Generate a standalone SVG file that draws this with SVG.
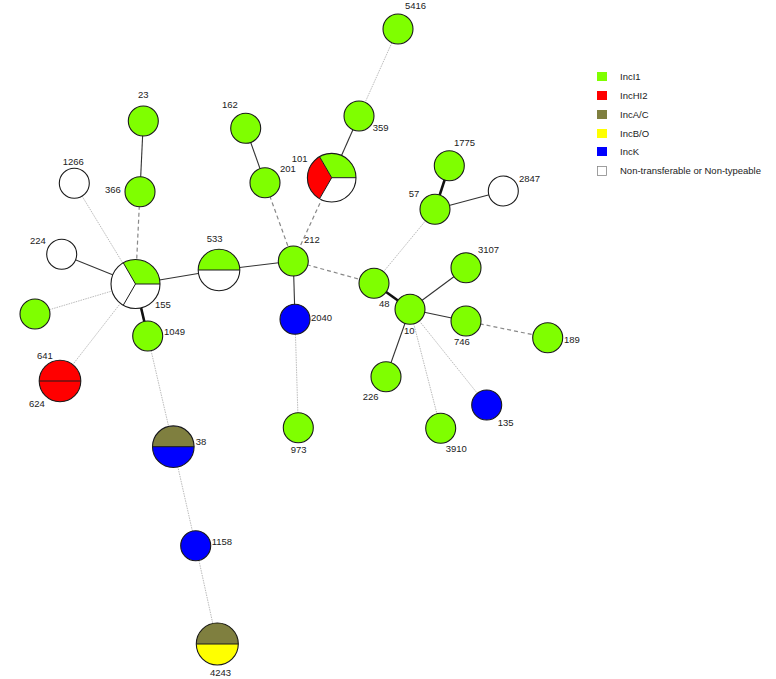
<svg xmlns="http://www.w3.org/2000/svg" width="776" height="679" viewBox="0 0 776 679">
<style>
text{font-family:"Liberation Sans",Arial,sans-serif;font-size:9.5px;fill:#222}
.n{stroke:#1a1a1a;stroke-width:1.1}
.g{fill:#7FFF00}.r{fill:#FF0000}.o{fill:#7F7F3F}.y{fill:#FFFF00}.b{fill:#0000FF}.w{fill:#FFFFFF}
.div{stroke:#1a1a1a;stroke-width:1;fill:none}
.s{stroke:#333;stroke-width:1.1}
.t{stroke:#111;stroke-width:2.6}
.d{stroke:#888;stroke-width:1.2;stroke-dasharray:4 3}
.p{stroke:#bbb;stroke-width:1;stroke-dasharray:1.5 1}
.leg{stroke:#888;stroke-width:0.8}
</style>
<rect width="776" height="679" fill="#fff"/>
<g id="connectors">
<line class="p" x1="398" y1="29" x2="359" y2="116"/>
<line class="s" x1="359" y1="116" x2="331.7" y2="177.7"/>
<line class="s" x1="143.3" y1="121" x2="140" y2="191.7"/>
<line class="d" x1="140" y1="191.7" x2="135.5" y2="284"/>
<line class="p" x1="74.3" y1="183.3" x2="135.5" y2="284"/>
<line class="s" x1="61.7" y1="254.3" x2="135.5" y2="284"/>
<line class="p" x1="35" y1="314" x2="135.5" y2="284"/>
<line class="p" x1="60" y1="381" x2="135.5" y2="284"/>
<line class="t" x1="135.5" y1="284" x2="147.7" y2="336"/>
<line class="s" x1="135.5" y1="284" x2="219" y2="270"/>
<line class="s" x1="219" y1="270" x2="293.3" y2="261"/>
<line class="s" x1="245.7" y1="128.3" x2="265" y2="182.7"/>
<line class="d" x1="265" y1="182.7" x2="293.3" y2="261"/>
<line class="d" x1="331.7" y1="177.7" x2="293.3" y2="261"/>
<line class="s" x1="293.3" y1="261" x2="295" y2="319.3"/>
<line class="p" x1="295" y1="319.3" x2="298.3" y2="427.7"/>
<line class="d" x1="293.3" y1="261" x2="374" y2="283.3"/>
<line class="p" x1="374" y1="283.3" x2="435" y2="209.3"/>
<line class="t" x1="435" y1="209.3" x2="449.3" y2="165.7"/>
<line class="s" x1="435" y1="209.3" x2="503.3" y2="191"/>
<line class="t" x1="374" y1="283.3" x2="410" y2="309.3"/>
<line class="s" x1="410" y1="309.3" x2="466" y2="267.7"/>
<line class="s" x1="410" y1="309.3" x2="466" y2="321"/>
<line class="d" x1="466" y1="321" x2="547.7" y2="337.7"/>
<line class="s" x1="410" y1="309.3" x2="386" y2="376.7"/>
<line class="p" x1="410" y1="309.3" x2="440.7" y2="428.3"/>
<line class="p" x1="410" y1="309.3" x2="486.7" y2="405"/>
<line class="p" x1="147.7" y1="336" x2="173.3" y2="446.7"/>
<line class="p" x1="173.3" y1="446.7" x2="195.7" y2="545.7"/>
<line class="p" x1="195.7" y1="545.7" x2="217.3" y2="644"/>
</g>
<g id="n5416"><circle class="n g" cx="398" cy="29" r="15"/><text x="405" y="9">5416</text></g>
<g id="n359"><circle class="n g" cx="359" cy="116" r="15"/><text x="372.7" y="131">359</text></g>
<g id="n101">
<path class="r" d="M331.7 177.7 L319.55 198.74 A24.3 24.3 0 0 1 319.55 156.66 Z"/>
<path class="g" d="M331.7 177.7 L319.55 156.66 A24.3 24.3 0 0 1 356 177.7 Z"/>
<path class="w" d="M331.7 177.7 L356 177.7 A24.3 24.3 0 0 1 319.55 198.74 Z"/>
<path class="div" d="M319.55 156.66 L331.7 177.7 L356 177.7 M331.7 177.7 L319.55 198.74"/>
<circle class="n" cx="331.7" cy="177.7" r="24.3" fill="none"/>
<text x="291.7" y="162">101</text></g>
<g id="n23"><circle class="n g" cx="143.3" cy="121" r="15"/><text x="143.3" y="98" text-anchor="middle">23</text></g>
<g id="n366"><circle class="n g" cx="140" cy="191.7" r="15"/><text x="105" y="193">366</text></g>
<g id="n1266"><circle class="n w" cx="74.3" cy="183.3" r="15"/><text x="62.7" y="165">1266</text></g>
<g id="n224"><circle class="n w" cx="61.7" cy="254.3" r="15"/><text x="30" y="244">224</text></g>
<g id="n641"><circle class="n g" cx="35" cy="314" r="15"/><text x="37" y="359">641</text></g>
<g id="n155">
<circle class="w" cx="135.5" cy="284" r="24.5"/>
<path class="g" d="M135.5 284 L123.25 262.78 A24.5 24.5 0 0 1 160 284 Z"/>
<path class="div" d="M123.25 262.78 L135.5 284 L160 284 M135.5 284 L123.25 305.22"/>
<circle class="n" cx="135.5" cy="284" r="24.5" fill="none"/>
<text x="155" y="308">155</text></g>
<g id="n1049"><circle class="n g" cx="147.7" cy="336" r="15"/><text x="164" y="335">1049</text></g>
<g id="n624">
<circle class="n r" cx="60" cy="381" r="20.8"/>
<line class="div" x1="39.2" y1="381" x2="80.8" y2="381"/>
<text x="29" y="407">624</text></g>
<g id="n533">
<circle class="w" cx="219" cy="270" r="20.8"/>
<path class="g" d="M198.2 270 A20.8 20.8 0 0 1 239.8 270 Z"/>
<line class="div" x1="198.2" y1="270" x2="239.8" y2="270"/>
<circle class="n" cx="219" cy="270" r="20.8" fill="none"/>
<text x="206.7" y="242">533</text></g>
<g id="n212"><circle class="n g" cx="293.3" cy="261" r="15"/><text x="304" y="243">212</text></g>
<g id="n162"><circle class="n g" cx="245.7" cy="128.3" r="15"/><text x="222" y="108">162</text></g>
<g id="n201"><circle class="n g" cx="265" cy="182.7" r="15"/><text x="280" y="172">201</text></g>
<g id="n2040"><circle class="n b" cx="295" cy="319.3" r="15"/><text x="311" y="321">2040</text></g>
<g id="n973"><circle class="n g" cx="298.3" cy="427.7" r="15"/><text x="290.7" y="453">973</text></g>
<g id="n48"><circle class="n g" cx="374" cy="283.3" r="15"/><text x="379" y="307">48</text></g>
<g id="n57"><circle class="n g" cx="435" cy="209.3" r="15"/><text x="408.7" y="197">57</text></g>
<g id="n1775"><circle class="n g" cx="449.3" cy="165.7" r="15"/><text x="454" y="146">1775</text></g>
<g id="n2847"><circle class="n w" cx="503.3" cy="191" r="15"/><text x="519" y="182">2847</text></g>
<g id="n10"><circle class="n g" cx="410" cy="309.3" r="15"/><text x="404" y="334">10</text></g>
<g id="n3107"><circle class="n g" cx="466" cy="267.7" r="15"/><text x="478" y="253">3107</text></g>
<g id="n746"><circle class="n g" cx="466" cy="321" r="15"/><text x="454" y="345">746</text></g>
<g id="n189"><circle class="n g" cx="547.7" cy="337.7" r="15"/><text x="564" y="343">189</text></g>
<g id="n226"><circle class="n g" cx="386" cy="376.7" r="15"/><text x="362.7" y="400">226</text></g>
<g id="n3910"><circle class="n g" cx="440.7" cy="428.3" r="15"/><text x="445.7" y="452">3910</text></g>
<g id="n135"><circle class="n b" cx="486.7" cy="405" r="15"/><text x="497.7" y="426">135</text></g>
<g id="n38">
<circle class="b" cx="173.3" cy="446.7" r="20.8"/>
<path class="o" d="M152.5 446.7 A20.8 20.8 0 0 1 194.1 446.7 Z"/>
<line class="div" x1="152.5" y1="446.7" x2="194.1" y2="446.7"/>
<circle class="n" cx="173.3" cy="446.7" r="20.8" fill="none"/>
<text x="195.7" y="445">38</text></g>
<g id="n1158"><circle class="n b" cx="195.7" cy="545.7" r="15"/><text x="211.7" y="545">1158</text></g>
<g id="n4243">
<circle class="y" cx="217.3" cy="644" r="21"/>
<path class="o" d="M196.3 644 A21 21 0 0 1 238.3 644 Z"/>
<line class="div" x1="196.3" y1="644" x2="238.3" y2="644"/>
<circle class="n" cx="217.3" cy="644" r="21" fill="none"/>
<text x="210" y="676">4243</text></g>
<g id="legend">
<rect class="g" x="597" y="72" width="10" height="9"/><text x="620" y="80">IncI1</text>
<rect class="r" x="597" y="91" width="10" height="9"/><text x="620" y="99">IncHI2</text>
<rect class="o" x="597" y="110" width="10" height="9"/><text x="620" y="118">IncA/C</text>
<rect class="y" x="597" y="129" width="10" height="9"/><text x="620" y="137">IncB/O</text>
<rect class="b" x="597" y="147" width="10" height="9"/><text x="620" y="155">IncK</text>
<rect class="leg" fill="#fff" x="597.5" y="166.5" width="9" height="9"/><text x="620" y="174">Non-transferable or Non-typeable</text>
</g>
</svg>
